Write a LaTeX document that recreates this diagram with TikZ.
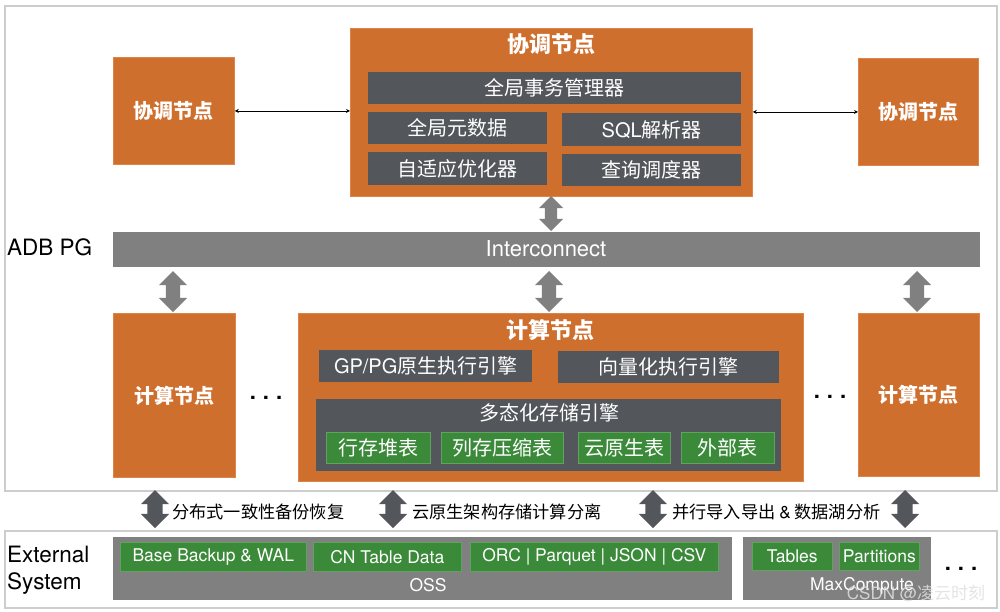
\documentclass[tikz,border=0pt]{standalone}
\usepackage{fontspec}
\setmainfont{Noto Sans CJK SC}
\newfontfamily\lat{TeX Gyre Heros}
\usetikzlibrary{shapes.arrows,arrows.meta}
\definecolor{orng}{HTML}{CF6F2E}
\definecolor{orngb}{HTML}{DE8446}
\definecolor{barc}{HTML}{53565B}
\definecolor{grn}{HTML}{3B8A3A}
\definecolor{gry}{HTML}{808080}
\definecolor{framec}{HTML}{CDCDCD}
\begin{document}
\begin{tikzpicture}[x=1pt,y=-1pt,
  every node/.style={inner sep=0pt},
  framebox/.style={draw=framec,line width=1.5pt,anchor=north west},
  orangebox/.style={fill=orng,draw=orngb,line width=0.8pt,anchor=north west,text=white,font=\fontsize{20}{24}\selectfont\bfseries},
  barbox/.style={fill=barc,anchor=north west,text=white,font=\fontsize{20}{24}\selectfont},
  greenbox/.style={fill=grn,draw=grn!80!white,line width=0.6pt,anchor=north west,text=white,font=\fontsize{20}{24}\selectfont},
  greenlat/.style={fill=grn,draw=grn!80!white,line width=0.6pt,anchor=north west,text=white,font=\lat\fontsize{17.5}{21}\selectfont},
  graybar/.style={fill=gry,anchor=north west},
  titletext/.style={text=white,font=\fontsize{22}{26}\selectfont\bfseries},
  blacklabel/.style={text=black,font=\lat\fontsize{22.5}{27}\selectfont,anchor=west,align=left},
  sublabel/.style={text=black,font=\fontsize{17.2}{21}\selectfont,anchor=west},
  whitelat/.style={text=white,font=\lat\fontsize{17.5}{21}\selectfont},
  dotsnode/.style={text=black,font=\lat\fontsize{22}{26}\selectfont\bfseries},
  fatarrow/.style={double arrow,rotate=90,fill=gry,inner xsep=0pt,inner ysep=7pt,double arrow head extend=7pt,double arrow tip angle=90,minimum width=0pt},
  darkarrow/.style={double arrow,rotate=90,fill=barc,inner xsep=0pt,inner ysep=7.5pt,double arrow head extend=6.5pt,double arrow tip angle=90,minimum width=0pt,minimum height=38pt},
  thinarrow/.style={{Stealth[length=4pt,width=4pt]}-{Stealth[length=4pt,width=4pt]},line width=0.8pt,black}
]
\useasboundingbox (0,0) rectangle (1000,611);

% frames
\node[framebox,minimum width=992pt,minimum height=485pt] (adb) at (4,5) {};
\node[framebox,minimum width=992pt,minimum height=77pt] (ext) at (4,530) {};
\node[blacklabel] (adblabel) at (7,247) {ADB PG};
\node[blacklabel] (extlabel) at (7,570) {External\\System};

% coordinator nodes
\node[orangebox,minimum width=402pt,minimum height=168pt] (coordC) at (350,28) {};
\node[titletext] (coordCt) at (551,44) {协调节点};
\node[barbox,minimum width=373pt,minimum height=32pt] (gtm) at (368,72) {全局事务管理器};
\node[barbox,minimum width=179pt,minimum height=32pt] (meta) at (368,112) {全局元数据};
\node[barbox,minimum width=179pt,minimum height=33pt] (sql) at (562,113) {{\lat SQL}解析器};
\node[barbox,minimum width=179pt,minimum height=33pt] (opt) at (368,152) {自适应优化器};
\node[barbox,minimum width=179pt,minimum height=32pt] (sched) at (562,154) {查询调度器};
\node[orangebox,minimum width=121pt,minimum height=107pt] (coordL) at (113,57) {协调节点};
\node[orangebox,minimum width=120pt,minimum height=107pt] (coordR) at (858,58) {协调节点};
\draw[thinarrow] (coordL.east) -- (coordL.east -| coordC.west);
\draw[thinarrow] (coordC.east |- coordR.west) -- (coordR.west);

% interconnect
\node[graybar,minimum width=867pt,minimum height=35pt] (ic) at (113,232) {};
\node[text=white,font=\lat\fontsize{22}{26}\selectfont] (ict) at (546,249) {Interconnect};
\node[fatarrow,inner ysep=6pt,double arrow head extend=6pt,minimum height=35pt] (a0) at (551,213.5) {};

% compute nodes
\node[orangebox,minimum width=122pt,minimum height=164pt] (compL) at (113,313) {计算节点};
\node[orangebox,minimum width=505pt,minimum height=168pt] (compC) at (298,313) {};
\node[orangebox,minimum width=121pt,minimum height=163pt] (compR) at (858,313) {计算节点};
\node[titletext] (compCt) at (550,330) {计算节点};
\node[barbox,minimum width=213pt,minimum height=32pt] (gpeng) at (319,350) {{\lat GP/PG}原生执行引擎};
\node[barbox,minimum width=221pt,minimum height=32pt] (veceng) at (558,351) {向量化执行引擎};
\node[barbox,minimum width=465pt,minimum height=72pt] (store) at (316,399) {};
\node[text=white,font=\fontsize{20}{24}\selectfont] (storet) at (549,413) {多态化存储引擎};
\node[greenbox,minimum width=104pt,minimum height=31pt] (heap) at (326,432) {行存堆表};
\node[greenbox,minimum width=122pt,minimum height=31pt] (col) at (441,432) {列存压缩表};
\node[greenbox,minimum width=92pt,minimum height=31pt] (cloud) at (578,432) {云原生表};
\node[greenbox,minimum width=93pt,minimum height=31pt] (exttab) at (681,432) {外部表};
\node[dotsnode] (dots1) at (266,398) {.\hspace{7pt}.\hspace{7pt}.};
\node[dotsnode] (dots2) at (830,397) {.\hspace{7pt}.\hspace{7pt}.};

\node[fatarrow,minimum height=41pt] (a1) at (173,291.5) {};
\node[fatarrow,minimum height=41pt] (a2) at (549,291.5) {};
\node[fatarrow,minimum height=41pt] (a3) at (917,291.5) {};

% bottom arrows and labels
\node[darkarrow] (b1) at (155,509) {};
\node[darkarrow] (b2) at (393,509) {};
\node[darkarrow] (b3) at (653,509) {};
\node[darkarrow] (b4) at (905,509) {};
\node[sublabel] (l1) at (172,512) {分布式一致性备份恢复};
\node[sublabel] (l2) at (412,512) {云原生架构存储计算分离};
\node[sublabel] (l3) at (672,512) {并行导入导出 {\lat\&} 数据湖分析};

% external system
\node[graybar,minimum width=619pt,minimum height=63pt] (oss) at (113,537) {};
\node[greenlat,minimum width=186pt,minimum height=29pt] (bb) at (120,542) {Base Backup \& WAL};
\node[greenlat,minimum width=148pt,minimum height=29pt] (cn) at (313,542) {CN Table Data};
\node[greenlat,minimum width=248pt,minimum height=29pt] (orc) at (470,542) {ORC | Parquet | JSON | CSV};
\node[whitelat] (osst) at (428,585) {OSS};
\node[graybar,minimum width=188pt,minimum height=63pt] (mc) at (743,537) {};
\node[greenlat,minimum width=80pt,minimum height=28pt] (tabs) at (752,542) {Tables};
\node[greenlat,minimum width=80pt,minimum height=28pt] (parts) at (839,542) {Partitions};
\node[whitelat] (mct) at (862,586) {MaxCompute};
\node[dotsnode] (dots3) at (961,569) {.\hspace{7pt}.\hspace{7pt}.};
\node[text=white!75!gray,opacity=0.85,font=\fontsize{17}{20}\selectfont] (wm) at (916,594) {{\lat CSDN @}凌云时刻};
\end{tikzpicture}
\end{document}
